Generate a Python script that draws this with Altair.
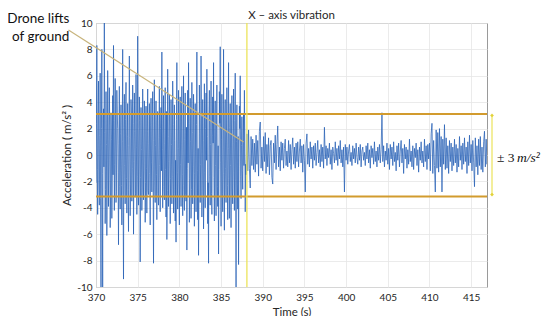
import altair as alt
import pandas as pd

# Acceleration samples (m/s^2)
# before lift-off, on the 0.1 s grid: 370.0 .. 388.0 s
pre_lift = [
    -2.1, 8.3, -4.5, 5.6, -3.8, 6.2, -10.0, 8.0, -10.0, 3.5,
    10.0, -5.2, 4.8, -6.1, 6.4, -3.9, 5.1, -5.5, 3.2, -4.8,
    4.5, 8.3, -4.2, 5.8, -3.6, 4.9, 2.0, -6.8, 5.2, -4.1,
    3.8, -5.3, 8.0, -9.4, 4.6, -3.7, 5.5, -4.4, 3.9, -5.8,
    7.5, -4.6, 4.2, -3.5, 5.3, -6.0, 4.7, -3.2, 6.1, -4.5,
    9.0, -3.8, 4.4, -8.1, 3.6, -4.2, 5.0, -3.4, 4.1, -5.1,
    3.7, -4.4, 5.0, -3.0, 3.9, -5.3, 4.3, -2.8, 4.8, -8.2,
    5.7, -3.6, 4.1, -4.9, 3.3, -3.8, 5.2, -4.3, 3.6, 7.8,
    -4.0, 4.5, -3.4, 5.1, -4.7, -6.4, 6.5, -3.9, 4.6, -5.2,
    4.2, -3.7, 5.6, -4.4, 3.8, -5.0, -6.6, 7.0, -4.1, 4.9,
    -5.3, 4.4, -3.9, 5.2, -4.6, 6.0, -4.2, 4.7, -3.5, -7.2,
    4.9, 7.0, -5.1, 4.3, -4.8, 5.5, -3.7, 4.6, -5.4, 3.9,
    -4.3, 7.8, -4.9, -7.6, 5.3, -3.6, 7.5, -4.7, 4.2, -5.6,
    5.4, -4.0, 4.7, 6.5, -5.2, -8.2, 4.9, -3.8, 5.6, -4.5,
    4.4, 7.0, -5.0, 4.1, -4.6, 5.3, -3.9, -7.5, 4.8, 8.2,
    -5.4, 4.6, -4.3, 8.0, -5.7, 4.2, -3.6, 5.1, -4.9, 7.0,
    -4.8, 3.9, -5.5, 4.5, -3.7, 5.0, -4.2, 6.2, -10.0, 3.8,
    -4.1, -8.3, 3.7, 6.0, -3.3, 2.9, -2.6, 3.1, 4.9, -4.3,
    -1.5,
]
# before lift-off, half-step samples: 370.05 .. 387.95 s
pre_lift_mid = [
    2.4, -1.1, 3.0, -2.2, 1.5, -3.3, 2.0, -1.4, 2.8, -0.9,
    1.7, -2.6, 0.8, -1.9, 2.9, -0.6, 2.2, -3.1, 1.2, -2.0,
    -1.5, 2.6, -0.7, 1.9, -2.8, 3.2, -1.3, 0.9, -2.4, 1.6,
    -2.3, 1.0, -3.0, 2.1, -0.8, 2.7, -1.8, 1.4, -2.6, 0.7,
    1.3, -2.2, 3.1, -1.0, 2.4, -0.5, 1.8, -2.9, 0.6, -1.6,
    2.0, -0.9, 2.6, -1.7, 0.4, -2.5, 1.9, -1.2, 3.0, -2.1,
    -1.0, 1.8, -2.7, 0.9, -1.4, 2.2, -0.6, 2.9, -1.9, 1.1,
    -2.0, 0.7, -1.5, 2.5, -2.9, 1.3, -0.8, 2.0, -1.2, 0.4,
    1.6, -2.4, 0.9, -1.1, 3.3, -2.7, 1.4, -0.5, 2.2, -1.8,
    0.8, -1.6, 2.3, -2.9, 1.1, -0.4, 2.7, -1.3, 0.5, -2.2,
    1.9, -0.7, 2.8, -1.5, 0.6, -2.3, 1.2, -3.0, 2.1, -1.0,
    -0.6, 2.4, -1.8, 1.0, -2.6, 1.7, -0.9, 2.5, -1.4, 0.3,
    2.3, -1.2, 0.5, -2.8, 1.6, -0.7, 2.9, -1.9, 1.1, -2.5,
    -1.3, 2.0, -0.4, 1.4, -2.1, 3.1, -1.6, 0.8, -2.9, 1.5,
    0.9, -1.7, 2.6, -0.8, 1.9, -2.4, 0.7, -1.1, 2.4, -0.6,
    1.2, -2.9, 0.6, -1.4, 2.8, -1.0, 1.7, -2.3, 0.5, -1.8,
    2.1, -0.8, 1.6, -2.5, 0.9, -1.3, 2.6, -1.9, 1.0, -2.2,
    1.4, -0.9, 2.0, -1.6, 0.7, -1.2, 1.5, -0.8, 1.1, -0.7,
]
# after lift-off: 388.1 .. 417.0 s
post_lift = [
    1.6, -1.2, 1.9, -1.0, -2.5, 1.4, -0.8, 1.2, -1.1,
    0.9, -1.3, 1.5, -0.7, 1.1, -1.6, 1.8, 2.5, -1.0, 0.6,
    -1.2, 1.4, -0.5, 1.7, -1.4, 0.8, -0.9, 1.3, -1.5, 0.7,
    1.1, -1.7, -2.2, 0.9, -0.6, 1.5, -1.1, 0.8, 2.2, -0.9,
    0.6, -1.2, 1.0, -0.4, 0.9, -1.0, 0.5, 1.2, -0.8, 0.3,
    -0.9, 1.1, -0.6, 0.8, -1.1, 0.4, 1.3, -0.7, 0.6, -1.0,
    0.9, -0.5, 1.0, -0.9, 0.3, 1.2, -0.6, 0.7, -1.3, 0.8,
    -0.4, -2.8, 0.9, 1.6, -0.7, 0.5, -0.9, 1.0, -0.3, 0.6,
    -1.0, 0.7, -0.4, 0.9, -0.8, 0.2, 1.1, -0.6, 0.4, -0.9,
    0.8, -0.5, 0.6, -1.0, 2.1, -0.3, 0.7, -0.8, 0.5, -0.2,
    0.9, -0.7, 0.4, -1.1, 0.6, 0.1, -0.6, 1.0, -0.4, 0.5,
    -0.8, 0.7, -0.3, 1.1, -0.6, 0.4, -0.9, 0.6, -2.8, 0.8,
    -0.4, 0.6, -0.7, 0.3, 0.8, -0.5, 0.2, -0.8, 0.7, -0.3,
    0.5, -0.6, 0.9, -0.2, -0.7, 0.6, -0.4, 0.8, -0.9, 0.3,
    0.6, -0.4, 0.2, -0.8, 0.7, -0.3, 0.9, -0.6, 0.4, -1.0,
    0.7, -0.2, 0.5, -0.7, 1.0, -0.5, 0.3, -0.9, 0.6, -0.4,
    0.8, -0.6, 0.4, 3.2, -0.5, 0.7, -0.9, 0.3, -0.4, 0.9,
    -0.7, 0.5, -1.1, 0.8, -0.3, 0.6, -0.8, 1.0, -0.5, 0.2,
    -1.2, 0.7, -0.4, 0.9, -0.9, 0.3, 1.1, -0.6, 0.5, -1.4,
    0.8, -0.3, 0.6, -1.0, 0.4, -0.7, 1.2, -0.5, 0.3, -0.9,
    0.7, -1.1, 0.5, -0.2, 0.9, -0.8, 0.4, -1.3, 0.6, -0.4,
    1.0, -0.6, 0.3, -0.9, 1.2, -0.5, 0.7, -1.1, 0.8, -0.3,
    0.9, -1.2, 1.6, 2.4, -1.4, 1.1, -0.8, -2.8, 1.9, -1.0,
    1.7, -1.3, 2.0, -0.9, 1.4, -2.8, 1.2, -0.7, 2.3, -1.1,
    1.3, -1.0, 0.7, -1.4, 1.1, -0.5, 0.9, -1.2, 0.6, -0.8,
    1.2, -0.6, 0.8, -1.3, 0.5, -0.9, 1.4, -0.4, 0.7, -1.1,
    0.9, -0.7, 1.3, -0.5, 0.6, -1.4, 1.0, -0.8, 1.5, -0.6,
    0.8, -1.2, 1.1, -0.6, -2.4, 1.3, -0.9, 0.7, -1.5, 1.2,
    -0.8, 1.4, -1.1, 0.6, -1.3, 1.0, 1.8, -0.9, 1.2, -0.7,
    0.9,
]
t_start = 370.0
t_lift = 388.1
dt = 0.1
band_levels = [3.1, -3.15]
x_ticks = [370, 375, 380, 385, 390, 395, 400, 405, 410, 415]
y_ticks = [-10, -8, -6, -4, -2, 0, 2, 4, 6, 8, 10]
title_text = "X – axis vibration"

times = ([round(t_start + i * dt, 2) for i in range(len(pre_lift))] +
         [round(t_start + dt / 2 + i * dt, 3) for i in range(len(pre_lift_mid))] +
         [round(t_lift + i * dt, 2) for i in range(len(post_lift))])
df = pd.DataFrame({"t": times, "a": pre_lift + pre_lift_mid + post_lift})
df = df.sort_values("t").reset_index(drop=True)
df["order"] = range(len(df))

FONT = "Lato"
TXT = "#262626"
xs = alt.Scale(domain=[370, 416.9], nice=False, zero=False)
ys = alt.Scale(domain=[-10, 10], nice=False, zero=False)

x_axis = alt.Axis(
    values=x_ticks, title="Time (s)", grid=True, tickSize=0, labelPadding=5,
    titlePadding=4, labelFlush=False, labelOverlap=False)
y_axis = alt.Axis(
    values=y_ticks, title="Acceleration ( m/s² )", grid=True, tickSize=0,
    labelPadding=4, titlePadding=4, labelOverlap=False, labelFlush=False,
    labelExpr="'' + datum.value")


def X(field):
    return alt.X(field, scale=xs, axis=x_axis, title="Time (s)")


def Y(field):
    return alt.Y(field, scale=ys, axis=y_axis, title="Acceleration ( m/s² )")


signal = alt.Chart(df).mark_line(
    strokeWidth=0.75, color="#2760b5", clip=True
).encode(x=X("t:Q"), y=Y("a:Q"), order="order:Q")

band = alt.Chart(pd.DataFrame({"y": band_levels})).mark_rule(
    color="#D29B2E", strokeWidth=2
).encode(y=Y("y:Q"))

lift = alt.Chart(pd.DataFrame({"x": [t_lift]})).mark_rule(
    color="#ECE35B", strokeWidth=1.3
).encode(x=X("x:Q"))

ann_line = alt.Chart(pd.DataFrame({
    "x": [366.7], "y": [9.47], "x2": [387.7], "y2": [0.98]
})).mark_rule(color="#C8B47C", strokeWidth=1.2, clip=False).encode(
    x=X("x:Q"), y=Y("y:Q"), x2="x2:Q", y2="y2:Q")

ann_text = alt.Chart(pd.DataFrame({
    "x": [366.8, 366.8], "y": [9.98, 8.62], "label": ["Drone lifts", "of ground"]
})).mark_text(font=FONT, fontSize=13.5, color="#111111", align="right",
              baseline="alphabetic", clip=False).encode(
    x=X("x:Q"), y=Y("y:Q"), text="label:N")

title = alt.Chart(pd.DataFrame({"x": [393.45], "y": [10.3], "label": [title_text]})).mark_text(
    font=FONT, fontSize=11.5, color=TXT, align="center", baseline="alphabetic", clip=False
).encode(x=X("x:Q"), y=Y("y:Q"), text="label:N")

arrow = alt.Chart(pd.DataFrame({"x": [417.5], "y": [3.0], "y2": [-3.0]})).mark_rule(
    color="#ECE35B", strokeWidth=1.2, clip=False
).encode(x=X("x:Q"), y=Y("y:Q"), y2="y2:Q")

arrow_ends = alt.Chart(pd.DataFrame({"x": [417.5, 417.5], "y": [3.0, -3.0]})).mark_point(
    shape="diamond", filled=True, size=14, color="#E2D23A", opacity=1, clip=False
).encode(x=X("x:Q"), y=Y("y:Q"))

pm_text = alt.Chart(pd.DataFrame({"x": [418.1], "y": [-0.55], "label": ["± 3"]})).mark_text(
    font="Liberation Serif", fontSize=13.5, color="#111111", align="left",
    baseline="alphabetic", clip=False
).encode(x=X("x:Q"), y=Y("y:Q"), text="label:N")

unit_text = alt.Chart(pd.DataFrame({"x": [420.5], "y": [-0.55], "label": ["m/s²"]})).mark_text(
    font="Liberation Serif", fontSize=13.5, fontStyle="italic", color="#111111",
    align="left", baseline="alphabetic", clip=False
).encode(x=X("x:Q"), y=Y("y:Q"), text="label:N")

chart = alt.layer(
    signal, band, lift, ann_line, ann_text, title, arrow, arrow_ends, pm_text, unit_text
).properties(
    width=391, height=264,
    autosize=alt.AutoSizeParams(type="none"),
    padding={"left": 88, "top": 15, "right": 55, "bottom": 29},
).configure_axis(
    labelFont=FONT, labelFontSize=10, labelColor=TXT,
    titleFont=FONT, titleFontSize=11.5, titleFontWeight="normal", titleColor=TXT,
    gridColor="#e6e6e6", gridWidth=0.8, domain=False,
).configure_view(stroke="#9a9a9a", strokeWidth=1)

chart.save("out.html", embed_options={"renderer": "svg", "actions": False})
